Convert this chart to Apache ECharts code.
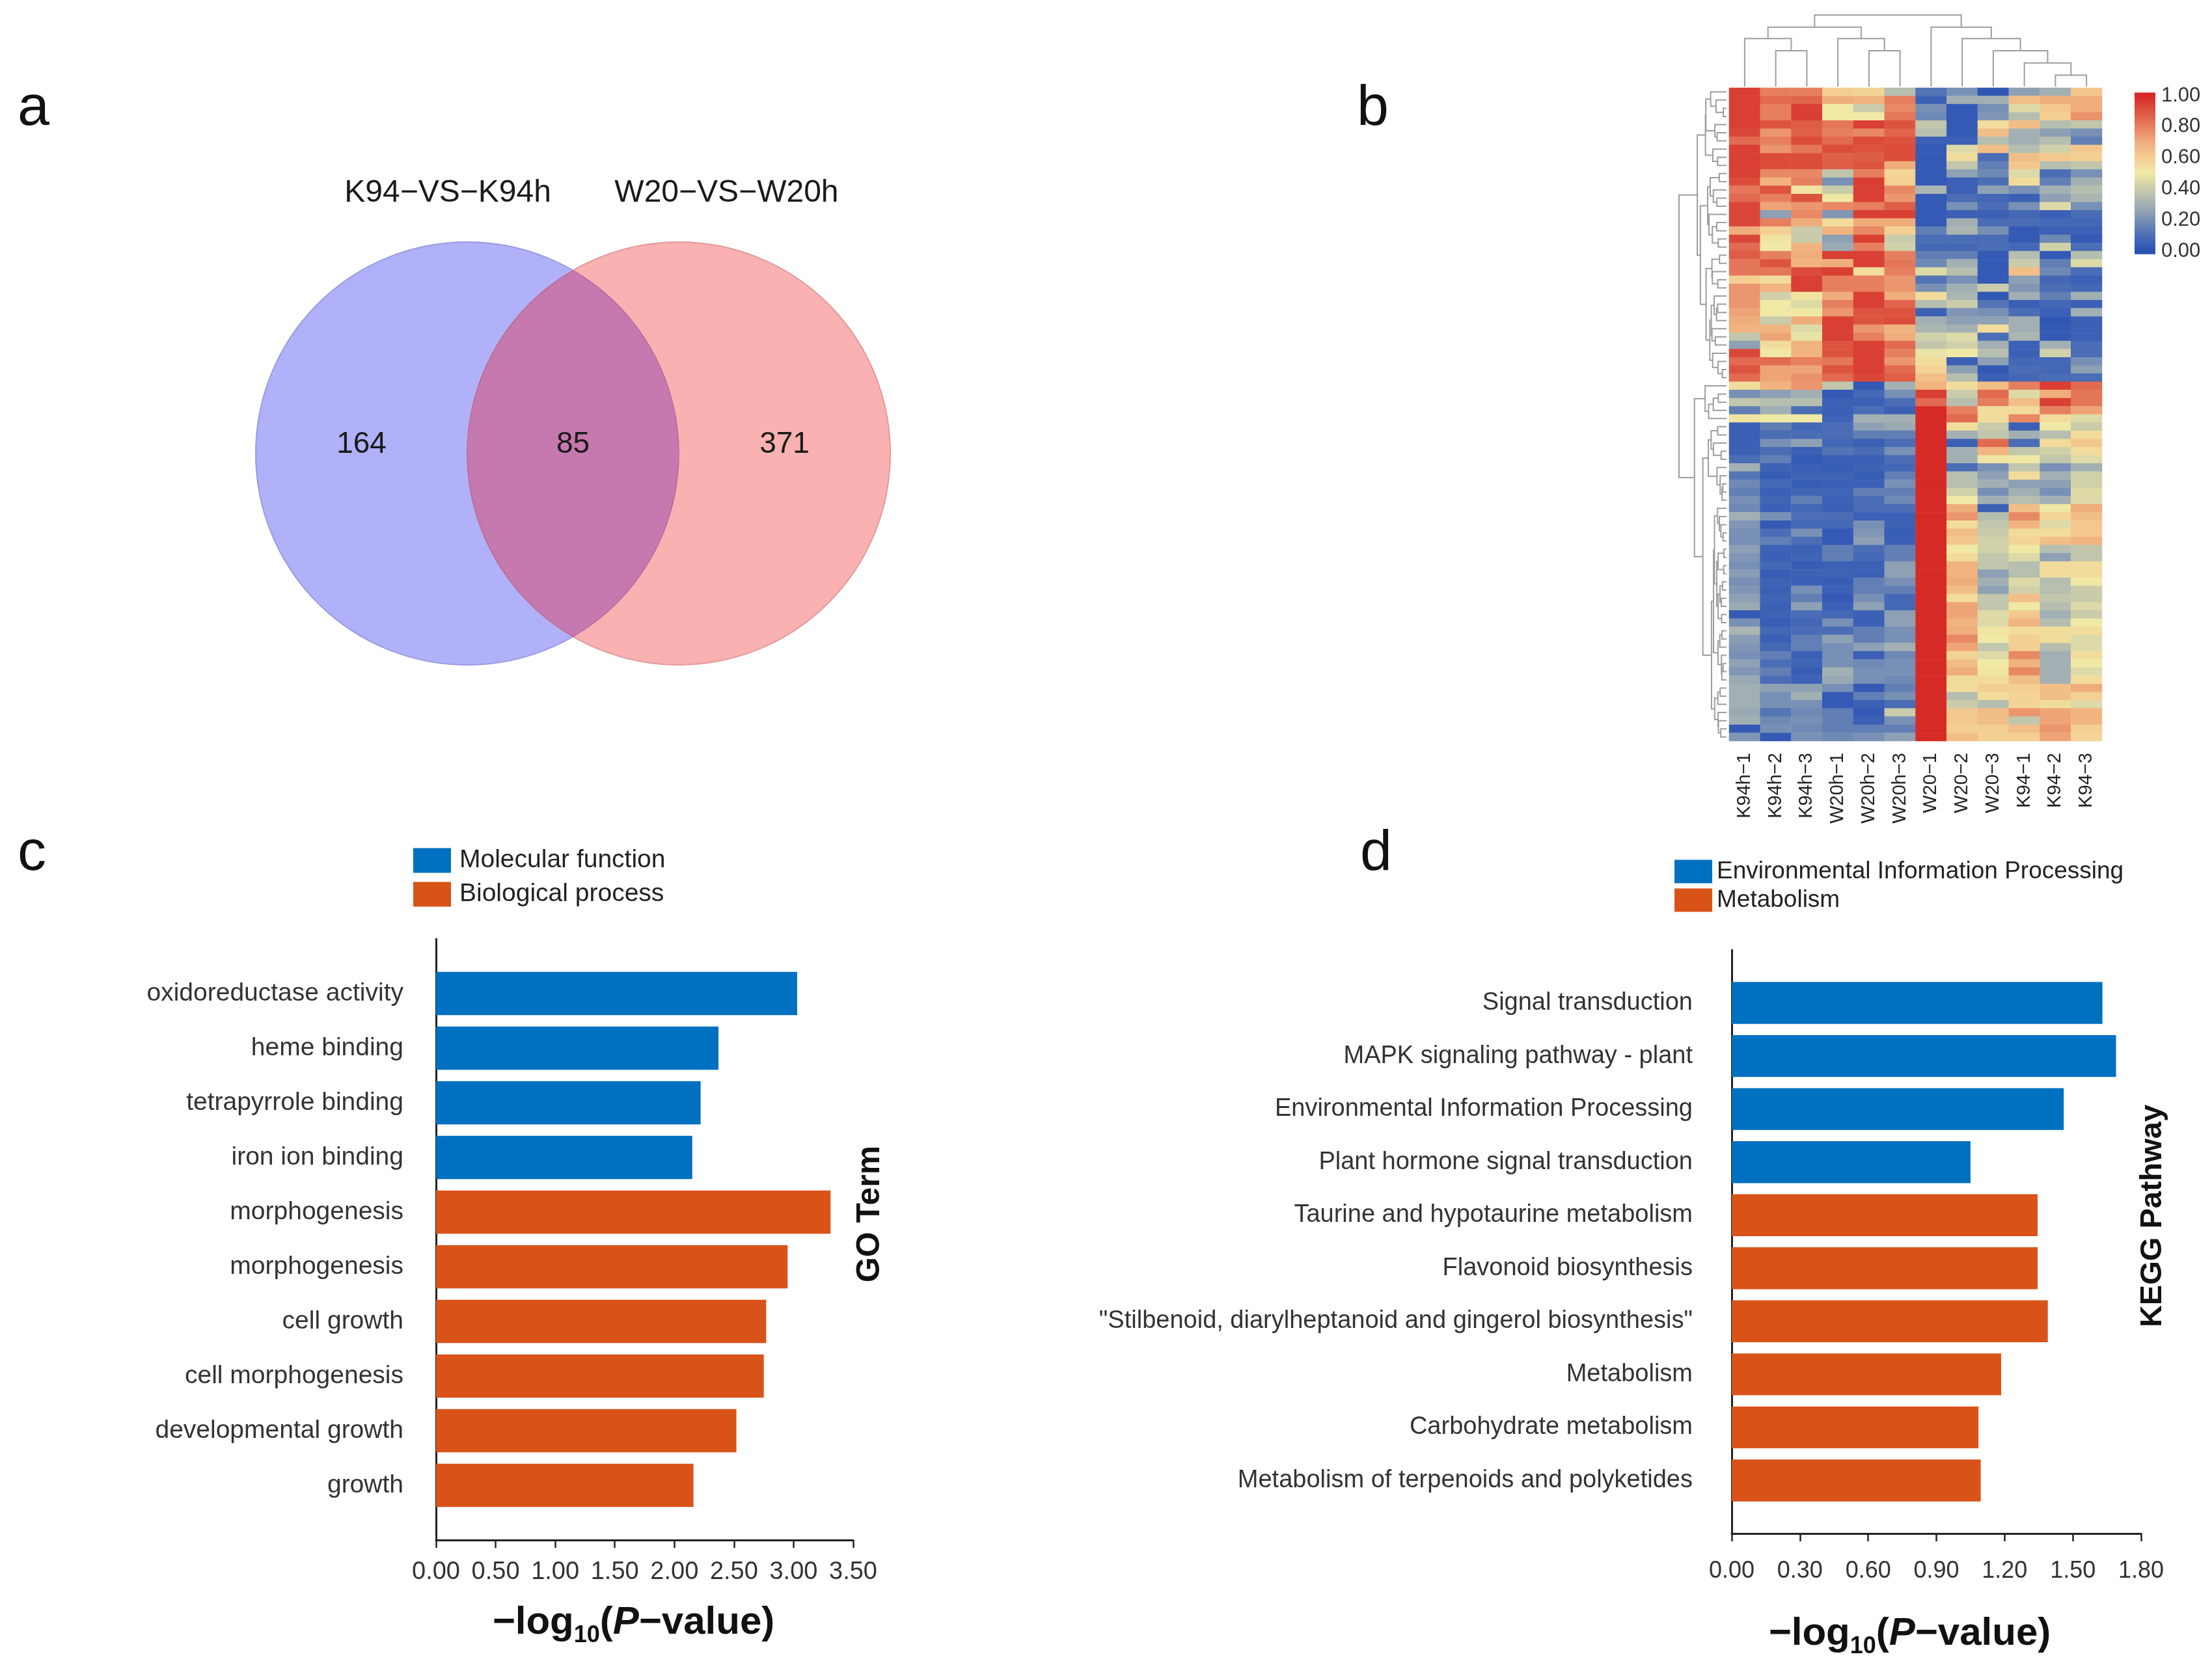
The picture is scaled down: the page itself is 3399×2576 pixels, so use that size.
<!DOCTYPE html>
<html><head><meta charset="utf-8">
<script src="https://cdn.jsdelivr.net/npm/echarts@6/dist/echarts.min.js"></script>
<style>html,body{margin:0;padding:0;background:#fff}#c{width:3399px;height:2576px}</style>
</head><body><div id="c"></div>
<script>
const FONT = "'Liberation Sans', Arial, Helvetica, sans-serif";

// ---------- Panel a: Venn ----------
const vennSetNames = ['K94−VS−K94h', 'W20−VS−W20h'];
const vennCounts = [164, 85, 371]; // left only, shared, right only

// ---------- Panel b: heatmap ----------
const heatColumns = ['K94h−1','K94h−2','K94h−3','W20h−1','W20h−2','W20h−3','W20−1','W20−2','W20−3','K94−1','K94−2','K94−3'];
const hK94h1 = [.95,.95,.95,.95,.95,.93,.85,.95,.95,.95,.95,.92,.82,.85,.93,.93,.93,.70,.93,.85,.88,.82,.82,.60,.75,.75,.75,.72,.70,.68,.38,.25,.93,.85,.90,.85,
  .55,.20,.38,.15,.52,.05,.05,.05,.05,.10,.30,.12,.18,.15,.20,.18,.30,.22,.20,.20,.25,.22,.20,.24,.20,.22,.25,.28,.03,.20,.32,.24,.22,.20,.25,.22,.28,.30,.30,.30,.28,.30,.03,.22];
const hK94h2 = [.80,.85,.80,.80,.90,.75,.80,.75,.92,.92,.78,.68,.90,.80,.72,.25,.80,.60,.52,.50,.80,.90,.82,.55,.68,.42,.50,.50,.40,.68,.72,.55,.50,.85,.72,.72,
  .68,.25,.35,.30,.50,.15,.10,.20,.10,.15,.06,.04,.08,.05,.07,.05,.20,.03,.10,.15,.06,.05,.08,.04,.06,.05,.07,.05,.06,.04,.08,.05,.08,.15,.10,.15,.10,.25,.20,.20,.12,.18,.20,.03];
const hK94h3 = [.80,.86,.95,.95,.88,.87,.92,.82,.92,.92,.78,.80,.52,.90,.75,.78,.70,.40,.40,.68,.70,.68,.92,.95,.95,.52,.45,.50,.70,.45,.48,.68,.68,.80,.72,.76,
  .75,.30,.35,.10,.50,.08,.10,.25,.05,.03,.05,.06,.04,.07,.15,.08,.10,.08,.20,.10,.05,.07,.04,.06,.05,.20,.15,.25,.10,.08,.10,.15,.15,.05,.07,.04,.06,.25,.30,.20,.18,.20,.18,.20];
const hW20h1 = [.60,.70,.50,.50,.82,.80,.85,.92,.87,.88,.38,.20,.40,.50,.78,.22,.55,.68,.25,.28,.95,.70,.95,.80,.80,.70,.80,.75,.95,.95,.95,.90,.90,.82,.90,.85,
  .38,.03,.05,.05,.06,.10,.10,.08,.12,.05,.04,.06,.05,.07,.05,.05,.10,.08,.03,.03,.15,.15,.05,.06,.04,.05,.03,.05,.08,.20,.10,.25,.20,.20,.20,.30,.28,.20,.03,.03,.15,.15,.15,.18];
const hW20h2 = [.58,.68,.40,.50,.95,.78,.92,.90,.88,.90,.80,.95,.95,.95,.80,.95,.70,.78,.95,.80,.95,.95,.55,.80,.80,.95,.95,.90,.90,.75,.80,.95,.95,.95,.95,.93,
  .03,.08,.05,.10,.30,.25,.15,.05,.10,.05,.06,.04,.05,.15,.10,.10,.05,.20,.22,.25,.10,.08,.05,.05,.15,.15,.20,.25,.05,.05,.15,.15,.25,.05,.18,.20,.20,.03,.15,.05,.03,.05,.15,.20];
const hW20h3 = [.35,.80,.78,.82,.90,.86,.90,.92,.92,.70,.58,.60,.78,.75,.88,.95,.70,.60,.40,.42,.80,.82,.80,.75,.75,.70,.86,.90,.92,.68,.70,.85,.80,.75,.85,.88,
  .30,.20,.10,.05,.30,.28,.15,.10,.20,.10,.08,.15,.20,.15,.18,.10,.05,.06,.04,.05,.15,.15,.25,.25,.20,.15,.08,.08,.25,.25,.20,.20,.30,.18,.20,.20,.18,.15,.20,.10,.40,.20,.15,.25];
const hW201 = [.12,.05,.20,.18,.38,.35,.05,.03,.03,.03,.03,.03,.32,.03,.03,.03,.03,.15,.10,.08,.15,.18,.45,.12,.20,.55,.35,.05,.30,.32,.42,.38,.48,.55,.58,.65,
  .68,.95,.85,1,1,1,1,1,1,1,1,1,1,1,1,1,1,1,1,1,1,1,1,1,1,1,1,1,1,1,1,1,1,1,1,1,1,1,1,1,1,1,1,1];
const hW202 = [.20,.30,.03,.03,.03,.03,.05,.45,.55,.38,.25,.05,.05,.10,.20,.05,.30,.32,.10,.08,.15,.30,.35,.20,.30,.32,.40,.22,.25,.30,.45,.42,.50,.05,.25,.35,
  .55,.40,.35,.80,.85,.55,.30,.05,.30,.30,.10,.35,.35,.42,.50,.70,.75,.55,.65,.62,.50,.55,.68,.68,.70,.65,.55,.72,.72,.68,.70,.78,.72,.58,.65,.70,.55,.55,.35,.40,.62,.62,.60,.65];
const hW203 = [.02,.30,.20,.22,.55,.65,.35,.65,.10,.15,.18,.10,.25,.08,.10,.05,.10,.20,.10,.10,.03,.03,.03,.03,.40,.02,.12,.20,.25,.55,.10,.30,.35,.25,.03,.05,
  .65,.85,.80,.55,.55,.40,.38,.85,.68,.52,.20,.25,.30,.20,.30,.05,.35,.38,.40,.42,.42,.38,.38,.25,.30,.25,.38,.38,.45,.45,.52,.50,.38,.45,.50,.52,.55,.60,.55,.35,.65,.65,.60,.60];
const hK941 = [.25,.65,.45,.35,.65,.30,.30,.35,.65,.62,.45,.55,.20,.05,.20,.08,.10,.03,.03,.08,.35,.40,.65,.25,.22,.30,.05,.10,.30,.30,.32,.05,.05,.08,.10,.08,
  .80,.45,.65,.55,.78,.05,.30,.10,.38,.50,.38,.55,.25,.30,.35,.65,.78,.68,.55,.58,.50,.45,.35,.35,.45,.42,.65,.50,.62,.68,.55,.60,.60,.78,.68,.78,.65,.60,.58,.58,.75,.38,.65,.60];
const hK942 = [.30,.70,.62,.60,.35,.25,.35,.42,.62,.35,.10,.15,.30,.25,.45,.05,.08,.05,.18,.42,.03,.15,.18,.08,.10,.15,.08,.05,.02,.03,.03,.30,.42,.08,.08,.10,
  .95,.70,.95,.80,.55,.50,.35,.55,.42,.38,.20,.30,.25,.20,.30,.50,.58,.45,.55,.65,.35,.25,.55,.55,.35,.35,.38,.35,.30,.35,.55,.55,.35,.30,.30,.30,.30,.65,.65,.55,.72,.72,.75,.72];
const hK943 = [.62,.70,.70,.76,.38,.20,.15,.62,.60,.38,.20,.30,.35,.32,.20,.10,.08,.05,.03,.10,.35,.45,.10,.05,.08,.30,.05,.30,.05,.05,.05,.10,.10,.20,.25,.10,
  .85,.82,.82,.72,.45,.40,.55,.62,.55,.45,.30,.42,.42,.45,.45,.70,.65,.62,.62,.68,.38,.38,.55,.55,.50,.40,.40,.45,.40,.50,.55,.45,.45,.55,.50,.45,.55,.70,.60,.45,.68,.68,.60,.58];
// column dendrogram: [childA, childB, height]; new nodes numbered from 12
const colLinkage = [[1,2,0.50],[4,5,0.50],[10,11,0.16],[9,14,0.33],[8,15,0.50],[0,12,0.67],[3,13,0.67],[7,16,0.67],[17,18,0.83],[6,19,0.83],[20,21,1.00]];

// ---------- Panel c: GO ----------
const goTerms = ['oxidoreductase activity','heme binding','tetrapyrrole binding','iron ion binding','morphogenesis','morphogenesis','cell growth','cell morphogenesis','developmental growth','growth'];
const goValues = [3.03, 2.37, 2.22, 2.15, 3.31, 2.95, 2.77, 2.75, 2.52, 2.16];
const goClassNames = ['Molecular function', 'Biological process'];
const goClassOf = [0,0,0,0,1,1,1,1,1,1];

// ---------- Panel d: KEGG ----------
const keggTerms = ['Signal transduction','MAPK signaling pathway - plant','Environmental Information Processing','Plant hormone signal transduction','Taurine and hypotaurine metabolism','Flavonoid biosynthesis','"Stilbenoid, diarylheptanoid and gingerol biosynthesis"','Metabolism','Carbohydrate metabolism','Metabolism of terpenoids and polyketides'];
const keggValues = [1.63, 1.69, 1.46, 1.05, 1.345, 1.345, 1.39, 1.185, 1.085, 1.095];
const keggClassNames = ['Environmental Information Processing', 'Metabolism'];
const keggClassOf = [0,0,0,0,1,1,1,1,1,1];

// ---------- styles ----------
const BLUE = '#0070C0', ORANGE = '#D95319';
const heatPalette = ['#2b52b5','#4a6db5','#7890b5','#a3b0b3','#c9cbaa','#f0e9a6','#f4cf92','#f0ad7c','#e67f5f','#dc5440','#d62a26'];

// ---------- derived ----------
const heatCols = [hK94h1,hK94h2,hK94h3,hW20h1,hW20h2,hW20h3,hW201,hW202,hW203,hK941,hK942,hK943];
const nRows = hK94h1.length;
const heatData = [];
heatCols.forEach((col, c) => col.forEach((v, r) => heatData.push([c, r, v])));
const rowVectors = Array.from({length: nRows}, (_, r) => heatCols.map(col => col[r]));

// order-preserving complete-linkage clustering for the row dendrogram
function adjacentLinkage(rows) {
  const D = rows.map(a => rows.map(b => Math.sqrt(a.reduce((s, v, k) => s + (v - b[k]) ** 2, 0))));
  let cl = rows.map((_, i) => ({m: [i], pos: i, h: 0}));
  const link = (A, B) => { let mx = 0; for (const i of A.m) for (const j of B.m) if (D[i][j] > mx) mx = D[i][j]; return mx; };
  const out = [];
  while (cl.length > 1) {
    let bi = 0, bd = Infinity;
    for (let i = 0; i < cl.length - 1; i++) { const d = link(cl[i], cl[i + 1]); if (d < bd) { bd = d; bi = i; } }
    const A = cl[bi], B = cl[bi + 1];
    out.push([A.pos, A.h, B.pos, B.h, bd]);
    cl.splice(bi, 2, {m: A.m.concat(B.m), pos: (A.pos + B.pos) / 2, h: bd});
  }
  return out;
}
const rowSegs = adjacentLinkage(rowVectors);
const rowRootH = Math.max(...rowSegs.map(s => s[4]));

function linkageSegments(link, n) {
  const nodes = Array.from({length: n}, (_, i) => ({pos: i, h: 0}));
  const segs = [];
  link.forEach(([a, b, h]) => { const A = nodes[a], B = nodes[b]; segs.push([A.pos, A.h, B.pos, B.h, h]); nodes.push({pos: (A.pos + B.pos) / 2, h}); });
  return segs;
}
const colSegs = linkageSegments(colLinkage, heatColumns.length);

const DENDRO = {stroke: '#9d9d9d', lineWidth: 2, fill: null};

function barRender(params, api) {
  const v = api.value(0), idx = api.value(1);
  const p0 = api.coord([0, idx]), p1 = api.coord([v, idx]);
  const h = api.size([0, 1])[1] * 0.79;
  return {type: 'rect', shape: {x: p0[0], y: p0[1] - h / 2, width: p1[0] - p0[0], height: h}, style: {fill: api.visual('color')}};
}
function barData(values, classOf, cls) {
  const d = [];
  values.forEach((v, i) => { if (classOf[i] === cls) d.push([v, i]); });
  return d;
}
function txt(text, x, y, size, opts) {
  return Object.assign({type: 'text', x, y, style: {text, fontSize: size, fontFamily: FONT, fill: '#111',
    align: 'left', verticalAlign: 'middle', textAlign: 'left', textVerticalAlign: 'middle'}}, opts || {});
}
const nameRich = {
  n: {fontSize: 60, fontWeight: 'bold', fontFamily: FONT, color: '#111', lineHeight: 60, verticalAlign: 'top'},
  s: {fontSize: 36, fontWeight: 'bold', fontFamily: FONT, color: '#111', lineHeight: 40, padding: [32, 0, 0, 0], verticalAlign: 'top'},
  p: {fontSize: 60, fontWeight: 'bold', fontStyle: 'italic', fontFamily: FONT, color: '#111', lineHeight: 60, verticalAlign: 'top'}
};
const axisNameStr = '{n|−log}{s|10}{n|(}{p|P}{n|−value)}';

function barAxes(gridIndex, max, interval, terms, nameGap, cfg) {
  return {
    x: {type: 'value', gridIndex, min: 0, max, interval, position: 'bottom',
      axisLine: {onZero: false, lineStyle: {color: '#222', width: 3}},
      axisTick: {show: true, length: 12, lineStyle: {color: '#222', width: 2.5}},
      splitLine: {show: false},
      axisLabel: {fontSize: cfg.tick, color: '#333', fontFamily: FONT, margin: cfg.tickMargin, formatter: v => v.toFixed(2)},
      name: axisNameStr, nameLocation: 'middle', nameGap, nameTextStyle: {rich: nameRich, padding: [0, cfg.namePadR, 0, 0]}},
    y: {type: 'value', gridIndex, min: -1, max: terms.length, interval: 1, inverse: true,
      axisLine: {show: true, onZero: true, lineStyle: {color: '#222', width: 3}},
      axisTick: {show: false}, splitLine: {show: false},
      axisLabel: {fontSize: cfg.cat, color: '#333', fontFamily: FONT, margin: cfg.catMargin, padding: [cfg.catShift, 0, 0, 0],
        formatter: v => (terms[v] !== undefined ? terms[v] : '')}}
  };
}
const goAx = barAxes(5, 3.5, 0.5, goTerms, 97, {tick: 38, tickMargin: 31, cat: 39, catMargin: 50, catShift: 16, namePadR: 34});
const kgAx = barAxes(6, 1.8, 0.3, keggTerms, 124, {tick: 36, tickMargin: 40, cat: 38, catMargin: 60, catShift: 12, namePadR: 82});

const option = {
  animation: false,
  backgroundColor: '#fff',
  textStyle: {fontFamily: FONT},
  grid: [
    {left: 393, top: 372, width: 975, height: 650},
    {left: 2657, top: 135, width: 573, height: 1004},
    {left: 2580, top: 135, width: 73, height: 1004},
    {left: 2657, top: 23, width: 573, height: 110},
    {left: 3280, top: 147, width: 32, height: 239},
    {left: 670, top: 1443, width: 641, height: 924},
    {left: 2661, top: 1460, width: 629, height: 897}
  ],
  xAxis: [
    {type: 'value', gridIndex: 0, min: 0, max: 3, show: false},
    {type: 'category', gridIndex: 1, data: heatColumns, position: 'bottom',
      axisLine: {show: false}, axisTick: {show: false}, splitLine: {show: false},
      axisLabel: {rotate: 90, fontSize: 29, color: '#222', fontFamily: FONT, margin: 18, interval: 0}},
    {type: 'value', gridIndex: 2, min: 0, max: rowRootH, inverse: true, show: false},
    {type: 'value', gridIndex: 3, min: -0.5, max: heatColumns.length - 0.5, show: false},
    {type: 'value', gridIndex: 4, min: 0, max: 1, show: false},
    goAx.x, kgAx.x
  ],
  yAxis: [
    {type: 'value', gridIndex: 0, min: 0, max: 2, inverse: true, show: false},
    {type: 'category', gridIndex: 1, data: rowVectors.map((_, i) => String(i)), inverse: true, show: false},
    {type: 'value', gridIndex: 2, min: -0.5, max: nRows - 0.5, inverse: true, show: false},
    {type: 'value', gridIndex: 3, min: 0, max: 1, show: false},
    {type: 'value', gridIndex: 4, min: 0, max: 1, interval: 0.2, position: 'right',
      axisLine: {show: false}, axisTick: {show: false}, splitLine: {show: false},
      axisLabel: {fontSize: 31, color: '#333', fontFamily: FONT, margin: 9, formatter: v => v.toFixed(2)}},
    goAx.y, kgAx.y
  ],
  visualMap: [{type: 'continuous', min: 0, max: 1, show: false, seriesIndex: 1, dimension: 2, inRange: {color: heatPalette}}],
  legend: [
    {left: 630, top: 1298, orient: 'vertical', itemWidth: 58, itemHeight: 38, itemGap: 13, icon: 'rect', selectedMode: false,
      data: goClassNames, textStyle: {fontSize: 39, color: '#222', fontFamily: FONT, padding: [0, 0, 0, 8]}},
    {left: 2568, top: 1316, orient: 'vertical', itemWidth: 58, itemHeight: 36, itemGap: 7, icon: 'rect', selectedMode: false,
      data: keggClassNames, textStyle: {fontSize: 37, color: '#222', fontFamily: FONT, padding: [0, 0, 0, 2]}}
  ],
  series: [
    { // 0 Venn
      type: 'custom', xAxisIndex: 0, yAxisIndex: 0, clip: false, silent: true,
      data: [[1, 1]],
      renderItem: (params, api) => {
        const c1 = api.coord([1, 1]), c2 = api.coord([2, 1]);
        const r = api.size([1, 1])[0];
        const half = (c2[0] - c1[0]) / 2, ix = c1[0] + half, iy = Math.sqrt(r * r - half * half);
        const tY = c1[1] - iy, bY = c1[1] + iy;
        const lens = `M${ix} ${tY} A${r} ${r} 0 0 1 ${ix} ${bY} A${r} ${r} 0 0 1 ${ix} ${tY} Z`;
        const t = (text, x, y, size) => ({type: 'text', x, y, style: {text, fontSize: size, fontFamily: FONT, fill: '#1a1a1a',
          align: 'center', verticalAlign: 'middle', textAlign: 'center', textVerticalAlign: 'middle'}});
        return {type: 'group', children: [
          {type: 'circle', shape: {cx: c1[0], cy: c1[1], r}, style: {fill: '#B1B1FA', stroke: '#9a9ae6', lineWidth: 2}},
          {type: 'circle', shape: {cx: c2[0], cy: c2[1], r}, style: {fill: '#F9B1B2', stroke: '#e39a9c', lineWidth: 2}},
          {type: 'path', shape: {pathData: lens}, style: {fill: '#C679AE', stroke: '#b46aa0', lineWidth: 1.5}},
          t(String(vennCounts[0]), c1[0] - r / 2, c1[1] - 14, 46),
          t(String(vennCounts[1]), ix, c1[1] - 14, 46),
          t(String(vennCounts[2]), c2[0] + r / 2, c1[1] - 14, 46),
          t(vennSetNames[0], c1[0] - 0.092 * r, c1[1] - 1.23 * r, 48),
          t(vennSetNames[1], c2[0] + 0.226 * r, c1[1] - 1.23 * r, 48)
        ]};
      }
    },
    { // 1 heatmap
      type: 'heatmap', xAxisIndex: 1, yAxisIndex: 1, data: heatData, silent: true,
      itemStyle: {borderWidth: 0}, emphasis: {disabled: true}, progressive: 0
    },
    { // 2 row dendrogram
      type: 'custom', xAxisIndex: 2, yAxisIndex: 2, silent: true, clip: false, data: rowSegs,
      renderItem: (params, api) => {
        const p1 = api.value(0), h1 = api.value(1), p2 = api.value(2), h2 = api.value(3), h = api.value(4);
        const pts = [[h1, p1], [h, p1], [h, p2], [h2, p2]].map(p => api.coord(p));
        return {type: 'polyline', shape: {points: pts}, style: DENDRO};
      }
    },
    { // 3 column dendrogram
      type: 'custom', xAxisIndex: 3, yAxisIndex: 3, silent: true, clip: false, data: colSegs,
      renderItem: (params, api) => {
        const p1 = api.value(0), h1 = api.value(1), p2 = api.value(2), h2 = api.value(3), h = api.value(4);
        const pts = [[p1, h1], [p1, h], [p2, h], [p2, h2]].map(p => api.coord(p));
        return {type: 'polyline', shape: {points: pts}, style: DENDRO};
      }
    },
    { // 4 colour bar
      type: 'custom', xAxisIndex: 4, yAxisIndex: 4, silent: true, clip: false, data: [[0, 0]],
      renderItem: (params, api) => {
        const lo = -0.02, hi = 1.02;
        const a = api.coord([0, hi]), b = api.coord([1, lo]);
        const stops = heatPalette.map((c, i) => ({offset: (i / (heatPalette.length - 1) - lo) / (hi - lo), color: c}));
        return {type: 'rect', shape: {x: a[0], y: a[1], width: b[0] - a[0], height: b[1] - a[1]},
          style: {fill: new echarts.graphic.LinearGradient(0, 1, 0, 0, stops)}};
      }
    },
    {type: 'custom', name: goClassNames[0], xAxisIndex: 5, yAxisIndex: 5, itemStyle: {color: BLUE}, silent: true,
      encode: {x: 0, y: 1}, data: barData(goValues, goClassOf, 0), renderItem: barRender},
    {type: 'custom', name: goClassNames[1], xAxisIndex: 5, yAxisIndex: 5, itemStyle: {color: ORANGE}, silent: true,
      encode: {x: 0, y: 1}, data: barData(goValues, goClassOf, 1), renderItem: barRender},
    {type: 'custom', name: keggClassNames[0], xAxisIndex: 6, yAxisIndex: 6, itemStyle: {color: BLUE}, silent: true,
      encode: {x: 0, y: 1}, data: barData(keggValues, keggClassOf, 0), renderItem: barRender},
    {type: 'custom', name: keggClassNames[1], xAxisIndex: 6, yAxisIndex: 6, itemStyle: {color: ORANGE}, silent: true,
      encode: {x: 0, y: 1}, data: barData(keggValues, keggClassOf, 1), renderItem: barRender}
  ],
  graphic: [
    txt('a', 27, 168, 88),
    txt('b', 2085, 168, 88),
    txt('c', 27, 1313, 88),
    txt('d', 2090, 1313, 88),
    Object.assign(txt('GO Term', 1337, 1866, 50), {rotation: Math.PI / 2}),
    Object.assign(txt('KEGG Pathway', 3308, 1869, 47), {rotation: Math.PI / 2})
  ]
};
// rotated axis titles are centred and bold
option.graphic.slice(4).forEach(g => Object.assign(g.style, {fontWeight: 'bold', align: 'center', textAlign: 'center'}));

const chart = echarts.init(document.getElementById('c'), null, {renderer: 'canvas'});
chart.setOption(option);
</script>
</body></html>
